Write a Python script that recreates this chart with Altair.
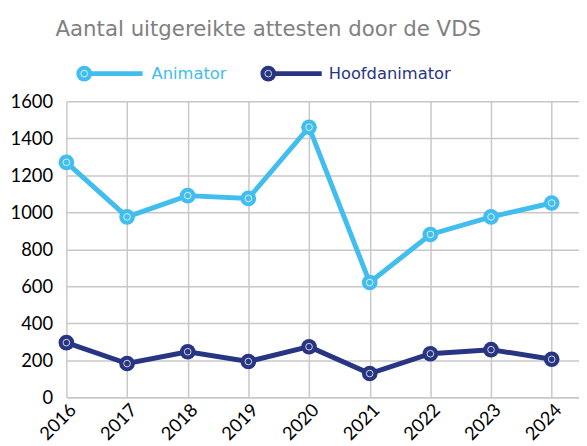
import altair as alt
import pandas as pd

years = [2016, 2017, 2018, 2019, 2020, 2021, 2022, 2023, 2024]
animator = [1270, 975, 1090, 1075, 1460, 620, 880, 975, 1050]
hoofdanimator = [295, 182, 246, 193, 273, 128, 235, 257, 205]
series = ["Animator", "Hoofdanimator"]
colors = ["#41BDEE", "#283583"]
y_ticks = [0, 200, 400, 600, 800, 1000, 1200, 1400, 1600]

df = pd.concat([
    pd.DataFrame({"jaar": years, "aantal": animator, "reeks": series[0]}),
    pd.DataFrame({"jaar": years, "aantal": hoofdanimator, "reeks": series[1]}),
])

color_scale = alt.Scale(domain=series, range=colors)

x = alt.X("jaar:Q", scale=alt.Scale(domain=[2016, 2024.45], nice=False, zero=False),
          axis=alt.Axis(values=years, format="d", labelAngle=-45, title=None, ticks=False,
                        labelFont="Lato", labelFontSize=18.5, labelColor="#000000",
                        gridColor="#c8c8c8", gridWidth=1.5, domainColor="#c8c8c8",
                        domainWidth=1.5, labelPadding=3, labelBound=False,
                        labelFlush=False, labelOverlap=False))
y = alt.Y("aantal:Q", scale=alt.Scale(domain=[0, 1600], nice=False),
          axis=alt.Axis(values=y_ticks, format="d", title=None, ticks=False,
                        domain=False, labelFont="Lato", labelFontSize=18.5, labelColor="#000000",
                        gridColor="#c8c8c8", gridWidth=1.5, labelPadding=14,
                        labelOverlap=False, labelFlush=False, labelBound=False))
color = alt.Color("reeks:N", scale=color_scale, legend=None)

base = alt.Chart(df)
lines = base.mark_line(strokeWidth=5).encode(x=x, y=y, color=color, detail="reeks:N")
points = base.mark_point(filled=True, size=250, opacity=1).encode(x=x, y=y, color=color)
inner = base.mark_point(filled=False, size=45, color="white", strokeWidth=1, opacity=0.8).encode(
    x=x, y=y)

legend_layers = []
leg_pos = [(18, 77, 86), (204, 258, 265)]
for name, col, (cx, lx2, tx) in zip(series, colors, leg_pos):
    ldf = pd.DataFrame({"reeks": [name]})
    lc = alt.Chart(ldf)
    legend_layers.append(lc.mark_rule(strokeWidth=5, color=col).encode(
        x=alt.value(cx), x2=alt.value(lx2), y=alt.value(-28)))
    legend_layers.append(lc.mark_point(filled=True, size=250, color=col, opacity=1).encode(
        x=alt.value(cx), y=alt.value(-28)))
    legend_layers.append(lc.mark_point(filled=False, size=45, color="white", strokeWidth=1, opacity=0.8).encode(
        x=alt.value(cx), y=alt.value(-28)))
    legend_layers.append(lc.mark_text(align="left", baseline="middle", font="DejaVu Sans",
                                      fontSize=16.5, color=col).encode(
        x=alt.value(tx), y=alt.value(-28), text="reeks:N"))

chart = alt.layer(lines, points, inner, *legend_layers).properties(
    width=518, height=299,
    autosize=alt.AutoSizeParams(type="none"),
    padding={"left": 59, "top": 92, "right": 0, "bottom": 46},
    title=alt.TitleParams("Aantal uitgereikte attesten door de VDS", font="DejaVu Sans",
                          fontSize=21.5, fontWeight="normal", color="#808080",
                          anchor="middle", frame="group", dx=-55, offset=26),
).configure_view(stroke=None)

chart.save("out.html", embed_options={"renderer": "svg", "actions": False})
